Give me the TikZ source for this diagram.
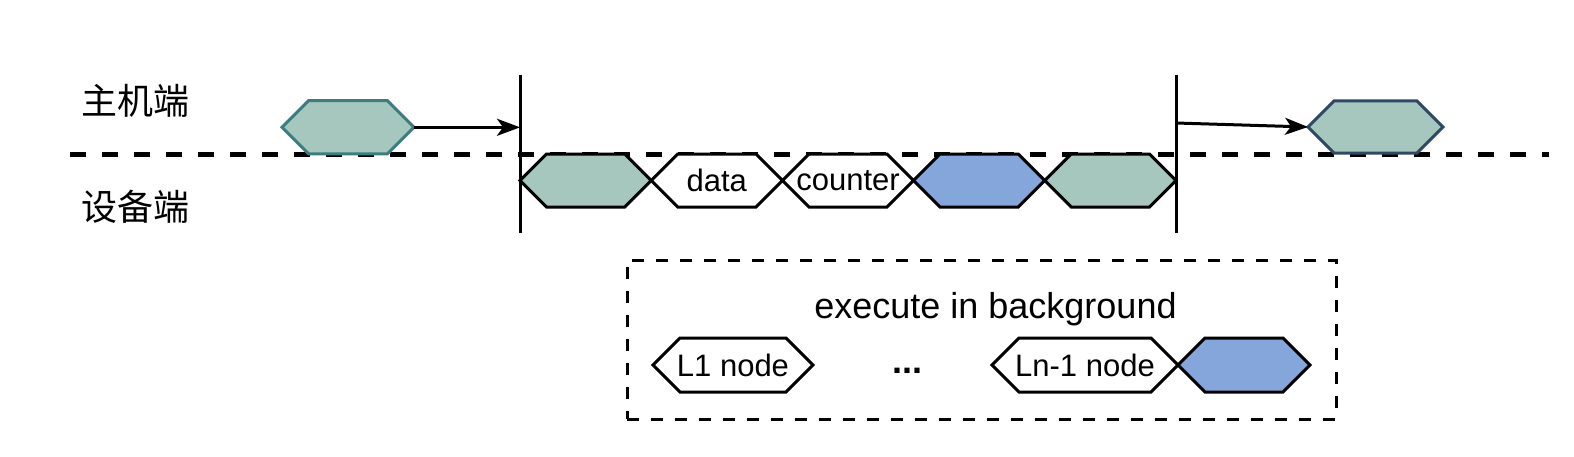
\documentclass[tikz,border=0pt]{standalone}
\usepackage{fontspec}
\setmainfont{Liberation Sans}
\newfontfamily\cjk{Noto Sans CJK SC}
\usetikzlibrary{arrows.meta,positioning,shapes.symbols}

\definecolor{stepgreen}{HTML}{A5C7BE}
\definecolor{stepblue}{HTML}{85A6DA}
\definecolor{hostteal}{HTML}{3D7D80}
\definecolor{hostnavy}{HTML}{2F4864}

\tikzset{
  hexa/.style={signal, signal to=west and east, signal pointer angle=90,
    draw=black, line width=3pt, inner sep=0pt, outer sep=0pt,
    minimum height=53pt, minimum width=131.2pt},
  rail/.style={line width=3pt},
}

\begin{document}
\begin{tikzpicture}[x=1pt,y=-1pt,every node/.style={font=\fontsize{36}{43}\selectfont},
    every label/.style={font=\fontsize{31}{37}\selectfont},
    >={Stealth[length=23pt,width=17pt,inset=6pt]}]
    \useasboundingbox (0,0) rectangle (1574,456);

    % lanes
    \node (hostlbl) at (135,101) {\cjk 主机端};
    \node (devlbl) at (135,207) {\cjk 设备端};
    \coordinate (laneL) at (70,154);
    \coordinate (laneR) at (1549,154);
    \draw[line width=5pt,dash pattern=on 16pt off 16pt] (laneL) -- (laneR);

    % host side
    \node[hexa,fill=stepgreen,draw=hostteal,minimum width=132pt,minimum height=53.3pt] (host1) at (348,127.3) {};
    \coordinate (sync1top) at (520,75);
    \coordinate (sync1bot) at (520,233);
    \draw[rail] (sync1top) -- (sync1bot);
    \draw[rail,->] (host1.east) -- (host1.east -| sync1top);

    % device side
    \node[hexa,fill=stepgreen] (dev1) at (585.6,180.5) {};
    \node[hexa,fill=white,right=0pt of dev1,label={center:data}] (dev2) {};
    \node[hexa,fill=white,right=0pt of dev2,label={center:counter}] (dev3) {};
    \node[hexa,fill=stepblue,right=0pt of dev3] (dev4) {};
    \node[hexa,fill=stepgreen,right=0pt of dev4] (dev5) {};

    \coordinate (sync2top) at (1176,75);
    \coordinate (sync2bot) at (1176,233);
    \draw[rail] (sync2top) -- (sync2bot);
    \coordinate (sync2out) at (1176,123);
    \node[hexa,fill=stepgreen,draw=hostnavy,minimum width=135pt,minimum height=52.3pt] (host2) at (1375.5,127) {};
    \draw[rail,->] (sync2out) -- (host2.west);

    % background work
    \node[draw,line width=3pt,dash pattern=on 12pt off 12pt,minimum width=709pt,minimum height=159pt,inner sep=0pt] (bgbox) at (981.5,339.5) {};
    \node[anchor=base] (bgtitle) at (995.5,318) {execute in background};
    \node[hexa,fill=white,minimum width=160pt,minimum height=54pt,label={center:L1 node}] (bgfirst) at (733,365) {};
    \node[anchor=base] (bgdots) at (907,373) {\textbf{...}};
    \node[hexa,fill=white,minimum width=186pt,minimum height=54pt,label={center:Ln-1 node}] (bglast) at (1085,365) {};
    \node[hexa,fill=stepblue,minimum width=132pt,minimum height=54pt,right=0pt of bglast] (bgsync) {};
\end{tikzpicture}
\end{document}
